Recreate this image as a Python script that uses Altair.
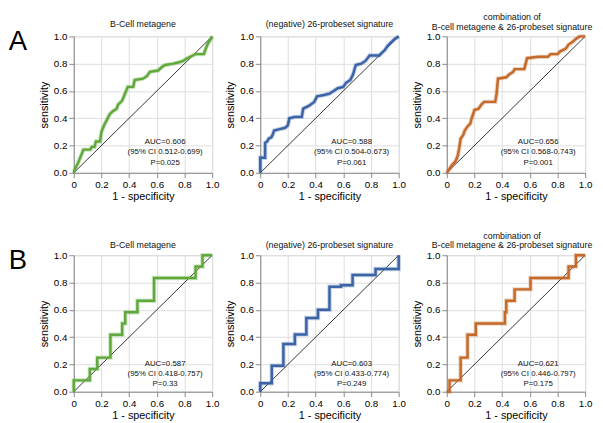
import altair as alt
import pandas as pd

# ---------------- data ----------------
a1_fpr = [0, 0.01, 0.03, 0.05, 0.07, 0.12, 0.13, 0.15, 0.16, 0.19, 0.2, 0.22, 0.24, 0.26, 0.28, 0.31, 0.32, 0.35,
          0.37, 0.39, 0.43, 0.44, 0.5, 0.53, 0.55, 0.61, 0.63, 0.66, 0.72, 0.76, 0.79, 0.82, 0.86, 0.88, 0.94,
          0.95, 0.97, 0.99, 1.0]
a1_tpr = [0, 0.03, 0.07, 0.12, 0.17, 0.17, 0.19, 0.19, 0.23, 0.23, 0.3, 0.35, 0.39, 0.43, 0.45, 0.47, 0.5, 0.53,
          0.58, 0.63, 0.63, 0.68, 0.69, 0.71, 0.74, 0.75, 0.77, 0.79, 0.8, 0.81, 0.82, 0.84, 0.86, 0.87, 0.87,
          0.9, 0.95, 0.98, 1.0]

a2_fpr = [0, 0, 0.035, 0.035, 0.05, 0.06, 0.08, 0.09, 0.1, 0.14, 0.18, 0.2, 0.21, 0.25, 0.3, 0.31, 0.35, 0.39,
          0.41, 0.46, 0.5, 0.53, 0.56, 0.6, 0.62, 0.65, 0.67, 0.69, 0.73, 0.76, 0.79, 0.86, 0.88, 0.9, 0.92,
          0.94, 0.97, 1.0]
a2_tpr = [0, 0.11, 0.11, 0.22, 0.23, 0.25, 0.26, 0.28, 0.31, 0.32, 0.33, 0.35, 0.40, 0.41, 0.41, 0.47, 0.49,
          0.52, 0.56, 0.57, 0.58, 0.6, 0.62, 0.63, 0.66, 0.68, 0.72, 0.79, 0.8, 0.82, 0.86, 0.86, 0.88, 0.9,
          0.93, 0.95, 0.98, 1.0]

a3_fpr = [0, 0.02, 0.04, 0.06, 0.07, 0.08, 0.09, 0.1, 0.12, 0.13, 0.15, 0.17, 0.18, 0.2, 0.23, 0.25, 0.27, 0.35,
          0.36, 0.37, 0.43, 0.45, 0.48, 0.49, 0.56, 0.57, 0.58, 0.66, 0.73, 0.75, 0.8, 0.82, 0.86, 0.88, 0.91,
          0.93, 0.96, 1.0]
a3_tpr = [0, 0.03, 0.06, 0.08, 0.1, 0.13, 0.18, 0.25, 0.28, 0.31, 0.34, 0.36, 0.4, 0.46, 0.47, 0.5, 0.52, 0.52,
          0.58, 0.69, 0.7, 0.72, 0.74, 0.76, 0.76, 0.8, 0.84, 0.85, 0.85, 0.87, 0.87, 0.89, 0.91, 0.94, 0.96,
          0.98, 1.0, 1.0]

b1_fpr = [0, 0, 0.116, 0.116, 0.17, 0.17, 0.265, 0.265, 0.35, 0.35, 0.372, 0.372, 0.46, 0.46, 0.58, 0.58,
          0.88, 0.88, 0.93, 0.93, 1.0]
b1_tpr = [0, 0.083, 0.083, 0.167, 0.167, 0.25, 0.25, 0.417, 0.417, 0.5, 0.5, 0.583, 0.583, 0.667, 0.667,
          0.833, 0.833, 0.917, 0.917, 1.0, 1.0]

b2_fpr = [0, 0, 0.083, 0.083, 0.167, 0.167, 0.25, 0.25, 0.333, 0.333, 0.417, 0.417, 0.5, 0.5, 0.583, 0.583,
          0.667, 0.667, 0.833, 0.833, 1.0, 1.0]
b2_tpr = [0, 0.062, 0.062, 0.19, 0.19, 0.35, 0.35, 0.42, 0.42, 0.54, 0.54, 0.6, 0.6, 0.77, 0.77, 0.78, 0.78,
          0.855, 0.855, 0.9, 0.9, 1.0]

b3_fpr = [0, 0.02, 0.02, 0.1, 0.1, 0.15, 0.15, 0.21, 0.21, 0.42, 0.42, 0.43, 0.43, 0.49, 0.49, 0.605, 0.605,
          0.88, 0.88, 0.933, 0.933, 1.0]
b3_tpr = [0, 0, 0.083, 0.083, 0.25, 0.25, 0.417, 0.417, 0.5, 0.5, 0.583, 0.583, 0.667, 0.667, 0.75, 0.75,
          0.833, 0.833, 0.917, 0.917, 1.0, 1.0]

titles = ["B-Cell metagene", "(negative) 26-probeset signature",
          "combination of\nB-cell metagene & 26-probeset signature"]
auc_a = ["AUC=0.606", "AUC=0.588", "AUC=0.656"]
ci_a = ["(95% CI 0.512-0.699)", "(95% CI 0.504-0.673)", "(95% CI 0.568-0.743)"]
p_a = ["P=0.025", "P=0.061", "P=0.001"]
auc_b = ["AUC=0.587", "AUC=0.603", "AUC=0.621"]
ci_b = ["(95% CI 0.418-0.757)", "(95% CI 0.433-0.774)", "(95% CI 0.446-0.797)"]
p_b = ["P=0.33", "P=0.249", "P=0.175"]
ticks = [0, 0.2, 0.4, 0.6, 0.8, 1.0]

GREEN = "#5fa83c"
BLUE = "#3a64a6"
ORANGE = "#c46a2a"
FONT = "Liberation Sans"
W, H = 141, 139
TITLE_LH = 10


def panel(fpr, tpr, color, title, text, text_top, title_y, letter=None, title_dx=0):
    df = pd.DataFrame({"fpr": fpr, "tpr": tpr, "idx": list(range(len(fpr)))})
    x = alt.X("fpr:Q", scale=alt.Scale(domain=[0, 1], nice=False, zero=False),
              axis=alt.Axis(values=ticks, tickCount=10, title="1 - specificity", labelOverlap=False,
                            labelBound=False, labelFlush=False, titleFontWeight="normal",
                            titleY=27, titleBaseline="alphabetic",
                            labelExpr="datum.value == 0 ? '0' : format(datum.value, '.1f')"))
    y = alt.Y("tpr:Q", scale=alt.Scale(domain=[0, 1], nice=False, zero=False),
              axis=alt.Axis(values=ticks, tickCount=10, format=".1f", title="sensitivity",
                            labelOverlap=False, labelBound=False, labelFlush=False,
                            titleFontWeight="normal"))
    diag = alt.Chart(pd.DataFrame({"fpr": [0, 1], "tpr": [0, 1]})).mark_line(
        color="black", strokeWidth=0.8).encode(x=x, y=y)
    halo = alt.Chart(df).mark_line(color=color, strokeWidth=4.5, opacity=0.3).encode(
        x=x, y=y, order="idx:Q")
    line = alt.Chart(df).mark_line(color=color, strokeWidth=2.5).encode(
        x=x, y=y, order="idx:Q")
    txt = alt.Chart(pd.DataFrame({"t": [text]})).mark_text(
        font=FONT, fontSize=8, lineBreak="\n", lineHeight=10.5, baseline="top",
        align="center", color="#111").encode(
        text="t:N", x=alt.datum(0.66), y=alt.datum(text_top))
    n_lines = title.count("\n")
    ttl = alt.Chart(pd.DataFrame({"t": [title]})).mark_text(
        font=FONT, fontSize=9, lineBreak="\n", lineHeight=TITLE_LH, baseline="bottom",
        align="center", color="#111").encode(
        text="t:N", x=alt.value(W / 2 + title_dx), y=alt.value(title_y - n_lines * TITLE_LH))
    layers = [diag, halo, line, txt, ttl]
    if letter:
        lt = alt.Chart(pd.DataFrame({"t": [letter]})).mark_text(
            font=FONT, fontSize=28, align="center", baseline="middle", color="black").encode(
            text="t:N", x=alt.value(-57), y=alt.value(6))
        layers.append(lt)
    return alt.layer(*layers).properties(width=W, height=H)


colors = [GREEN, BLUE, ORANGE]
fa = [a1_fpr, a2_fpr, a3_fpr]
ta = [a1_tpr, a2_tpr, a3_tpr]
fb = [b1_fpr, b2_fpr, b3_fpr]
tb = [b1_tpr, b2_tpr, b3_tpr]

panels = []
for i in range(3):
    panels.append(panel(fa[i], ta[i], colors[i], titles[i],
                        "\n".join([auc_a[i], ci_a[i], p_a[i]]), 0.255,
                        title_y=-5 if i == 2 else -8,
                        letter="A" if i == 0 else None, title_dx=-4 if i == 2 else 0))
for i in range(3):
    panels.append(panel(fb[i], tb[i], colors[i], titles[i],
                        "\n".join([auc_b[i], ci_b[i], p_b[i]]), 0.235,
                        title_y=-5,
                        letter="B" if i == 0 else None, title_dx=-4 if i == 2 else 0))

chart = alt.concat(*panels, columns=3, spacing={"row": 84, "column": 49}, bounds="flush").properties(
    padding=0
).configure_view(
    stroke="#9a9a9a", strokeWidth=1
).configure_axis(
    grid=False, domainColor="#666", tickColor="#666", tickSize=3, labelFont=FONT, titleFont=FONT,
    labelFontSize=9.5, labelColor="#111", titleColor="#111", titleFontWeight="normal",
    labelFlush=False, labelOverlap=False, labelPadding=2
).configure_axisX(
    titleFontSize=11.5, titleFontWeight="normal"
).configure_axisY(
    titleFontSize=10.5, titlePadding=4, titleFontWeight="normal"
).configure(background="white")

chart.save("out.html", embed_options={"renderer": "svg", "actions": False})
